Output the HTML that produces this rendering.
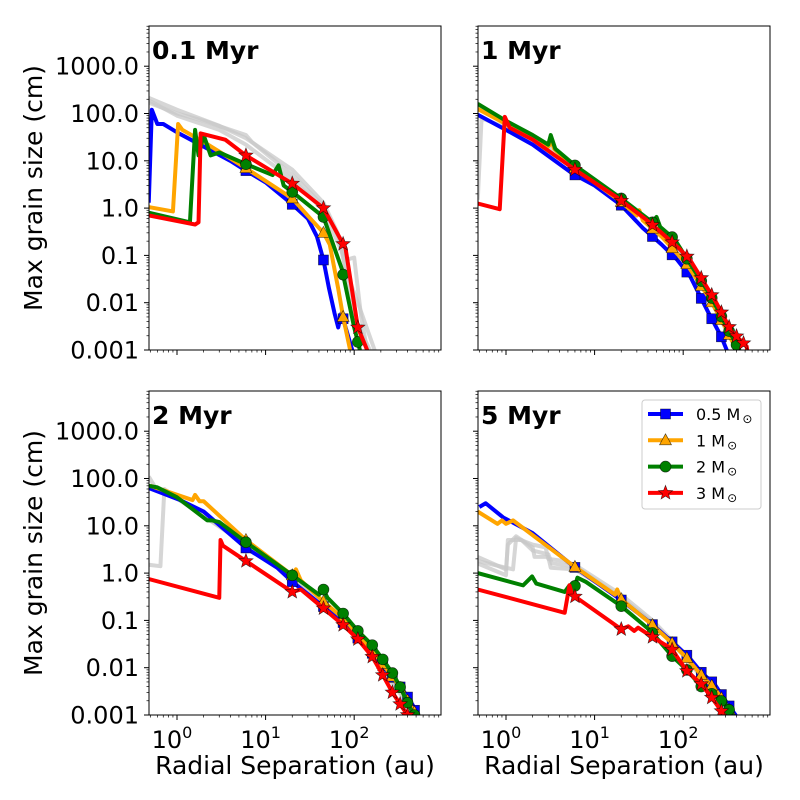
<!DOCTYPE html>
<html><head><meta charset="utf-8"><style>
html,body{margin:0;padding:0;background:#fff}
svg{display:block;font-family:"DejaVu Sans","Liberation Sans",sans-serif}
</style></head><body>
<svg id="chart" width="800" height="800" viewBox="0 0 800 800" xmlns="http://www.w3.org/2000/svg"></svg>
<script>
const panelTitles = ["0.1 Myr","1 Myr","2 Myr","5 Myr"];
const seriesNames = ["0.5 M","1 M","2 M","3 M"];
const yTickLabels = ["0.001","0.01","0.1","1.0","10.0","100.0","1000.0"];
const yTickValues = [0.001,0.01,0.1,1,10,100,1000];
const xTickValues = [1,10,100];
const xTickExps = ["0","1","2"];
const markerRadii = [6,20,45,75,110,160,210,270,330,400,480];

const p1Blue = [[0.48,1.3],[0.52,120],[0.6,60],[0.7,60],[1,40],[2,20],[4,10],[6,6.2],[10,3.5],[20,1.2],[30,0.6],[38,0.25],[45,0.08],[52,0.02],[60,0.006],[66,0.003],[72,0.006],[80,0.003],[95,0.001],[100,0.0005]];
const p1Orange = [[0.48,1.05],[0.9,0.85],[1.03,60],[1.15,45],[2,25],[6,7],[20,1.6],[32,0.6],[45,0.3],[53,0.17],[66,0.02],[75,0.005],[90,0.001],[95,0.0005]];
const p1Green = [[0.48,0.8],[1.4,0.5],[1.6,45],[1.75,13],[2,35],[2.4,13],[3,15],[6,8.5],[12,5],[14,8],[16,3],[20,2.2],[45,0.65],[73,0.05],[100,0.003],[116,0.001],[125,0.0005]];
const p1Red = [[0.48,0.7],[1.6,0.45],[1.75,0.5],[1.85,38],[3.5,28],[6,13],[20,3.3],[45,1.0],[80,0.14],[110,0.003],[140,0.001],[150,0.0005]];
const p1Gray = [
 [[0.48,215],[1,120],[3,55],[6,30],[20,6.5],[45,1.3],[65,0.3],[80,0.05],[110,0.01],[170,0.001],[180,0.0005]],
 [[0.48,170],[1,100],[2,70],[6,35],[7,25],[20,5],[45,1.1],[70,0.2],[100,0.005],[150,0.001],[160,0.0005]],
 [[0.48,190],[1,90],[3,45],[6,22],[20,4],[45,0.9],[80,0.08],[100,0.09],[120,0.005],[140,0.001],[150,0.0005]]
];

const p2Blue = [[0.48,94],[1,45],[2,22],[5.7,5.3],[10,3],[20,1.15],[35,0.38],[57,0.17],[86,0.08],[120,0.036],[190,0.0065],[270,0.0019],[310,0.001],[330,0.0005]];
const p2Orange = [[0.48,125],[1,60],[2,28],[3,20],[3.3,25],[3.5,18],[6,7],[20,1.35],[30,0.7],[32,0.9],[35,0.55],[57,0.25],[110,0.065],[200,0.012],[300,0.003],[400,0.001],[420,0.0005]];
const p2Green = [[0.48,160],[1,70],[2,35],[3,22],[3.2,35],[3.6,18],[6,8],[20,1.6],[45,0.5],[50,0.65],[55,0.4],[80,0.22],[110,0.085],[200,0.015],[300,0.0035],[430,0.001],[450,0.0005]];
const p2Red = [[0.48,1.25],[0.85,0.95],[0.97,85],[1.1,50],[2,28],[6,6.5],[17,1.8],[37,0.6],[57,0.3],[90,0.14],[120,0.08],[230,0.011],[350,0.0025],[520,0.0012],[560,0.0005]];
const p2Gray = [
 [[0.48,1.5],[0.53,80],[1,50],[2,25],[6,7],[20,1.5],[45,0.5],[110,0.07],[200,0.012],[400,0.001]],
 [[0.48,140],[1,65],[3,20],[6,7.5],[20,1.5],[50,0.4],[120,0.06],[250,0.006],[420,0.001]]
];

const p3Blue = [[0.48,63],[1.08,35],[2,20],[6,3.4],[13.5,1.3],[20,0.66],[43,0.21],[75,0.09],[165,0.019],[275,0.006],[370,0.003],[460,0.0016],[500,0.001],[520,0.0005]];
const p3Orange = [[0.5,70],[1.5,35],[1.6,45],[1.8,33],[2,33],[6,5],[20,0.9],[22,1.2],[25,0.7],[45,0.25],[80,0.1],[170,0.02],[300,0.005],[500,0.001],[520,0.0005]];
const p3Green = [[0.48,70],[0.6,65],[1,40],[2.2,13],[2.5,13],[3,12],[6,4.5],[20,0.9],[40,0.35],[45,0.45],[50,0.3],[75,0.14],[110,0.06],[160,0.03],[210,0.015],[280,0.007],[340,0.0035],[420,0.0015],[480,0.001],[500,0.0005]];
const p3Red = [[0.48,0.75],[3,0.3],[3.1,5],[3.3,3.8],[6,1.8],[20,0.4],[25,0.45],[45,0.18],[75,0.08],[110,0.04],[160,0.017],[210,0.007],[270,0.003],[330,0.0017],[400,0.001],[420,0.0005]];
const p3Gray = [
 [[0.48,1.5],[0.65,1.4],[0.72,60],[1,38],[6,4],[20,0.8],[80,0.1],[200,0.012],[500,0.001]],
 [[0.48,110],[0.6,55],[1,38],[6,4.2],[20,0.85],[80,0.1],[500,0.001]]
];

const p4Blue = [[0.5,25],[0.59,30],[0.93,15],[2,7],[5.9,1.35],[20,0.27],[43,0.088],[74,0.036],[115,0.017],[160,0.008],[230,0.0043],[300,0.002],[390,0.001],[410,0.0005]];
const p4Orange = [[0.48,20],[0.8,11],[0.9,13],[1,11],[1.2,13],[6,1.35],[17,0.35],[18,0.45],[20,0.28],[45,0.08],[75,0.033],[110,0.016],[160,0.007],[230,0.0035],[300,0.0017],[360,0.001],[380,0.0005]];
const p4Green = [[0.48,1.0],[1.56,0.55],[1.97,0.85],[2.2,0.6],[4.6,0.4],[5.2,0.55],[5.6,0.35],[6.4,0.8],[8,0.65],[20,0.2],[43,0.06],[74,0.018],[110,0.009],[160,0.004],[230,0.0025],[300,0.0017],[360,0.001],[380,0.0005]];
const p4Red = [[0.48,0.45],[4.6,0.145],[5.2,0.55],[5.6,0.35],[20,0.065],[24,0.075],[28,0.06],[31,0.07],[43,0.047],[74,0.025],[110,0.0085],[160,0.0045],[215,0.0022],[290,0.001],[310,0.0005]];
const p4Gray = [
 [[0.48,2.2],[1,1.2],[1.05,4],[1.3,6],[2,3.5],[2.1,2.2],[3,2.2],[3.2,1.3],[6,1.2],[20,0.3],[45,0.09],[110,0.015],[300,0.0015],[350,0.001]],
 [[0.48,1.6],[1,0.9],[1.05,5],[1.5,5],[2,3],[3,2.5],[3.3,1.6],[6,1.4],[20,0.3],[45,0.09],[110,0.016],[360,0.001]],
 [[0.48,1.8],[1.2,1.2],[1.3,5.5],[2,4],[2.8,3.5],[3,2],[4.5,1.8],[6,1.5],[20,0.35],[45,0.1],[110,0.018],[300,0.002],[380,0.001]]
];

const panelSeries = [[p1Blue,p1Orange,p1Green,p1Red],[p2Blue,p2Orange,p2Green,p2Red],[p3Blue,p3Orange,p3Green,p3Red],[p4Blue,p4Orange,p4Green,p4Red]];
const panelGray = [p1Gray,p2Gray,p3Gray,p4Gray];
const colors = ["#0000ff","#ffa500","#008000","#ff0000"];
const markerTypes = ["square","triangle","circle","star"];

const NS = "http://www.w3.org/2000/svg";
const svg = document.getElementById("chart");
const W = 292, H = 324, X0 = [149,478,149,478], Y0 = [26,26,391,391];
const XMIN = -0.316, XMAX = 2.98, YMIN = -3, YMAX = 3.85;
function mk(tag, attrs, parent){const e=document.createElementNS(NS,tag);for(const k in attrs)e.setAttribute(k,attrs[k]);(parent||svg).appendChild(e);return e;}
function xs(p,r){return X0[p]+(Math.log10(r)-XMIN)/(XMAX-XMIN)*W;}
function ys(p,a){return Y0[p]+H-(Math.log10(a)-YMIN)/(YMAX-YMIN)*H;}
function interp(series,r){
  const lr=Math.log10(r);
  for(let i=0;i<series.length-1;i++){
    const a=Math.log10(series[i][0]), b=Math.log10(series[i+1][0]);
    if(lr>=a&&lr<=b){const t=(lr-a)/(b-a);return Math.pow(10,Math.log10(series[i][1])*(1-t)+Math.log10(series[i+1][1])*t);}
  }
  return null;
}
function drawMarker(g,type,cx,cy,color){
  let e;
  if(type==="square") e=mk("rect",{x:cx-5,y:cy-5,width:10,height:10},g);
  else if(type==="circle") e=mk("circle",{cx:cx,cy:cy,r:5.5},g);
  else if(type==="triangle") e=mk("polygon",{points:`${cx},${cy-6.5} ${cx+6},${cy+4.5} ${cx-6},${cy+4.5}`},g);
  else {let pts=[];for(let i=0;i<10;i++){const rr=i%2?3.2:7.5,ang=-Math.PI/2+i*Math.PI/5;pts.push((cx+rr*Math.cos(ang)).toFixed(2)+","+(cy+rr*Math.sin(ang)).toFixed(2));}e=mk("polygon",{points:pts.join(" ")},g);}
  e.setAttribute("fill",color);e.setAttribute("stroke","#000");e.setAttribute("stroke-width","0.6");e.setAttribute("stroke-opacity","0.7");
  return e;
}
const defs = mk("defs",{});
for(let p=0;p<4;p++){
  const cp=mk("clipPath",{id:"clip"+p},defs);
  mk("rect",{x:X0[p],y:Y0[p],width:W,height:H},cp);
}
for(let p=0;p<4;p++){
  const panel=mk("g",{});
  
  
  const plot=mk("g",{"clip-path":`url(#clip${p})`},panel);
  panelGray[p].forEach((s,i)=>{
    const d=s.map((q,j)=>(j?"L":"M")+xs(p,q[0]).toFixed(2)+","+ys(p,q[1]).toFixed(2)).join("");
    const e=mk("path",{d:d,fill:"none",stroke:"#c8c8c8","stroke-width":4,"stroke-opacity":0.75,"stroke-linejoin":"round"},plot);
    
    
  });
  panelSeries[p].forEach((s,i)=>{
    const g=mk("g",{},plot);
    
    
    const d=s.map((q,j)=>(j?"L":"M")+xs(p,q[0]).toFixed(2)+","+ys(p,q[1]).toFixed(2)).join("");
    const line=mk("path",{d:d,fill:"none",stroke:colors[i],"stroke-width":4,"stroke-linejoin":"round"},g);
    
    
    markerRadii.forEach(r=>{
      const a=interp(s,r);
      if(a!==null&&a>=0.0009){
        const m=drawMarker(g,markerTypes[i],xs(p,r),ys(p,a),colors[i]);
        
        
      }
    });
  });
  const fr=mk("rect",{x:X0[p],y:Y0[p],width:W,height:H,fill:"none",stroke:"#000","stroke-width":1},panel);
  
  
  for(let d=-3;d<=3;d++){
    const y=ys(p,Math.pow(10,d));
    mk("line",{x1:X0[p]-5,x2:X0[p],y1:y,y2:y,stroke:"#000","stroke-width":1},panel);
    for(let m=2;m<=9;m++){const v=m*Math.pow(10,d);if(Math.log10(v)>YMAX)break;const yy=ys(p,v);mk("line",{x1:X0[p]-2.5,x2:X0[p],y1:yy,y2:yy,stroke:"#000","stroke-width":0.7},panel);}
  }
  if(p%2===0){
    yTickValues.forEach((v,i)=>{
      const t=mk("text",{x:X0[p]-10,y:ys(p,v)+8.5,"text-anchor":"end","font-size":24},panel);
      t.textContent=yTickLabels[i];
      
      
    });
    const yt=mk("text",{x:0,y:0,"text-anchor":"middle","font-size":25,transform:`translate(42,${Y0[p]+H/2}) rotate(-90)`},panel);
    yt.textContent="Max grain size (cm)";
    
    
  }
  const yb=Y0[p]+H;
  for(let d=-1;d<=2;d++){
    for(let m=1;m<=9;m++){
      const v=m*Math.pow(10,d),lv=Math.log10(v);
      if(lv<XMIN||lv>XMAX)continue;
      const x=xs(p,v);
      mk("line",{x1:x,x2:x,y1:yb,y2:yb+(m===1?5:2.5),stroke:"#000","stroke-width":m===1?1:0.7},panel);
    }
  }
  if(p>=2){
    xTickValues.forEach((v,i)=>{
      const t=mk("text",{x:xs(p,v)-5,y:yb+33,"text-anchor":"middle","font-size":24},panel);
      t.textContent="10";
      const s=mk("tspan",{dy:-10,"font-size":16},t);s.textContent=xTickExps[i];
      
      
    });
    const xt=mk("text",{x:X0[p]+W/2,y:774,"text-anchor":"middle","font-size":25},panel);
    xt.textContent="Radial Separation (au)";
    
    
  }
  const tt=mk("text",{x:X0[p]+3,y:Y0[p]+33,"font-size":25,"font-weight":"bold"},panel);
  tt.textContent=panelTitles[p];
  
  
}
const lg=mk("g",{});


mk("rect",{x:642,y:400,width:119,height:109,rx:3,fill:"#fff","fill-opacity":0.85,stroke:"#ccc","stroke-width":1},lg);
seriesNames.forEach((n,i)=>{
  const y=414+i*26.3;
  const e=mk("g",{},lg);
  
  
  mk("line",{x1:648,x2:683,y1:y,y2:y,stroke:colors[i],"stroke-width":4},e);
  drawMarker(e,markerTypes[i],665.5,y,colors[i]);
  const t=mk("text",{x:696,y:y+6,"font-size":16},e);
  t.textContent=n;
  const s=mk("tspan",{dy:3,dx:2,"font-size":12},t);s.textContent="⊙";
});
</script>
</body></html>
